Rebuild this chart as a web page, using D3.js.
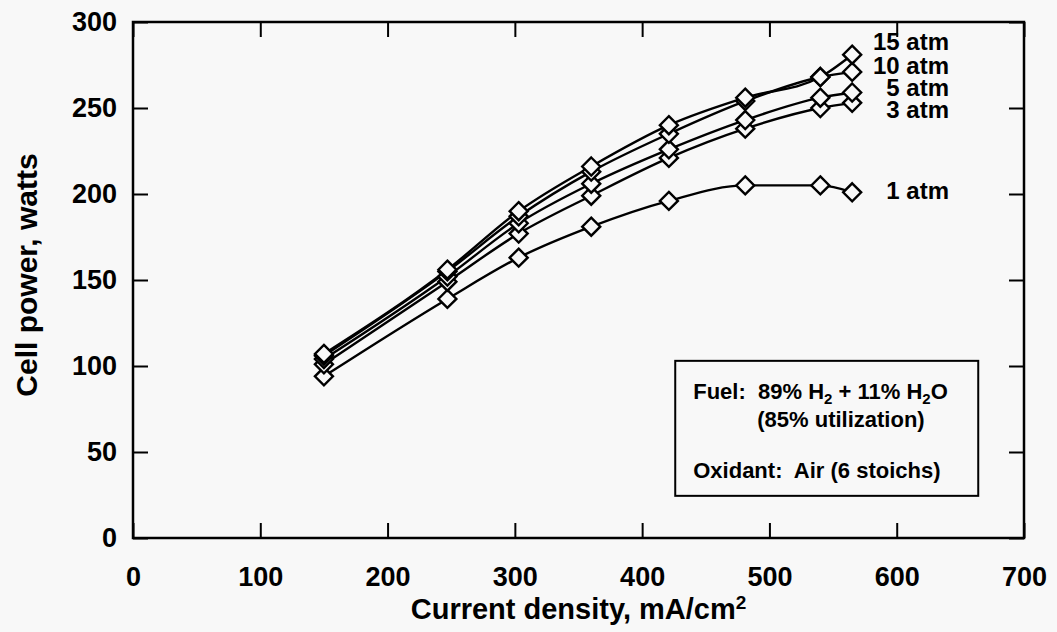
<!DOCTYPE html>
<html>
<head>
<meta charset="utf-8">
<script src="https://cdn.jsdelivr.net/npm/d3@7"></script>
<style>
  body { margin: 0; background: #f8f8f8; }
  svg { display: block; font-family: "Liberation Sans", Arial, Helvetica, sans-serif; font-weight: bold; }
</style>
</head>
<body>
<svg id="chart"></svg>
<script>
// current density, mA/cm2
const density = [150, 247, 303, 360, 421, 481, 540, 565];
// cell power, watts, one list per pressure
const atm1 = [94, 139, 163, 181, 196, 205, 205, 201];
const atm3 = [101, 149, 177, 199, 221, 238, 250, 253];
const atm5 = [104, 152, 183, 206, 226, 243, 256, 259];
const atm10 = [106, 155, 187, 213, 235, 254, 268, 271];
const atm15 = [107, 156, 190, 216, 240, 256, 268, 281];
const seriesNames = ["1 atm", "3 atm", "5 atm", "10 atm", "15 atm"];
const xTicks = [0, 100, 200, 300, 400, 500, 600, 700];
const yTicks = [0, 50, 100, 150, 200, 250, 300];

const width = 1057;
const height = 632;
const margin = {top: 22, right: 33, bottom: 94, left: 133};

const svg = d3.select("#chart").attr("width", width).attr("height", height);

const x = d3
  .scaleLinear()
  .domain([0, 700])
  .range([margin.left, width - margin.right]);

const y = d3
  .scaleLinear()
  .domain([0, 300])
  .range([height - margin.bottom, margin.top]);

const series = [atm1, atm3, atm5, atm10, atm15].map((vals, i) => ({
  name: seriesNames[i],
  points: vals.map((v, j) => ({x: density[j], y: v})),
}));

const tickLen = 15;

// axes: bottom/left with labels, top/right ticks only
svg
  .append("g")
  .attr("transform", `translate(0,${y(0)})`)
  .call(d3.axisBottom(x).tickValues(xTicks).tickSizeInner(-tickLen).tickSizeOuter(0).tickPadding(29))
  .call((g) => g.selectAll("text").attr("font-size", "27px").attr("fill", "#000"));

svg
  .append("g")
  .attr("transform", `translate(${x(0)},0)`)
  .call(d3.axisLeft(y).tickValues(yTicks).tickSizeInner(-tickLen).tickSizeOuter(0).tickPadding(16))
  .call((g) => g.selectAll("text").attr("font-size", "27px").attr("fill", "#000"));

svg
  .append("g")
  .attr("transform", `translate(0,${y(300)})`)
  .call(d3.axisTop(x).tickValues(xTicks).tickSizeInner(-tickLen).tickSizeOuter(0).tickFormat(""));

svg
  .append("g")
  .attr("transform", `translate(${x(700)},0)`)
  .call(d3.axisRight(y).tickValues(yTicks).tickSizeInner(-tickLen).tickSizeOuter(0).tickFormat(""));

svg.selectAll(".domain").remove();
svg.selectAll(".tick line").attr("stroke", "#000").attr("stroke-width", 2);

svg
  .append("rect")
  .attr("x", x(0))
  .attr("y", y(300))
  .attr("width", x(700) - x(0))
  .attr("height", y(0) - y(300))
  .attr("fill", "none")
  .attr("stroke", "#000")
  .attr("stroke-width", 2.5);

// curves
const line = d3
  .line()
  .x((d) => x(d.x))
  .y((d) => y(d.y))
  .curve(d3.curveMonotoneX);

svg
  .selectAll(".curve")
  .data(series)
  .enter()
  .append("path")
  .attr("class", "curve")
  .attr("d", (d) => line(d.points))
  .attr("fill", "none")
  .attr("stroke", "#000")
  .attr("stroke-width", 2.4);

// diamond markers
const diamond = "M0,-9L9,0L0,9L-9,0Z";

series.forEach((s) => {
  svg
    .selectAll(null)
    .data(s.points)
    .enter()
    .append("path")
    .attr("d", diamond)
    .attr("transform", (d) => `translate(${x(d.x)},${y(d.y)})`)
    .attr("fill", "#f8f8f8")
    .attr("stroke", "#000")
    .attr("stroke-width", 2.4);
});

// pressure labels at the end of each curve
const labelNudge = {"1 atm": 0, "3 atm": 9, "5 atm": -2.5, "10 atm": -4, "15 atm": -11};

svg
  .selectAll(".series-label")
  .data(series)
  .enter()
  .append("text")
  .attr("class", "series-label")
  .attr("x", 949)
  .attr("y", (d) => y(d.points[d.points.length - 1].y) + labelNudge[d.name])
  .attr("text-anchor", "end")
  .attr("dominant-baseline", "middle")
  .attr("font-size", "24px")
  .text((d) => d.name);

// axis titles
const xTitle = svg
  .append("text")
  .attr("x", (x(0) + x(700)) / 2)
  .attr("y", 619)
  .attr("text-anchor", "middle")
  .attr("font-size", "29px");
xTitle.append("tspan").text("Current density, mA/cm");
xTitle.append("tspan").attr("dy", -10).attr("font-size", "19px").text("2");

svg
  .append("text")
  .attr("transform", "translate(37,275) rotate(-90)")
  .attr("text-anchor", "middle")
  .attr("font-size", "30px")
  .text("Cell power, watts");

// conditions box
const box = svg.append("g").attr("transform", `translate(${x(426)},${y(103)})`);

box
  .append("rect")
  .attr("width", 303)
  .attr("height", 135)
  .attr("fill", "none")
  .attr("stroke", "#000")
  .attr("stroke-width", 2);

const fuel = box.append("text").attr("x", 18).attr("y", 38).attr("font-size", "22px");
fuel.append("tspan").text("Fuel:\u00a0 89% H");
fuel.append("tspan").attr("dy", 5).attr("font-size", "15px").text("2");
fuel.append("tspan").attr("dy", -5).text(" + 11% H");
fuel.append("tspan").attr("dy", 5).attr("font-size", "15px").text("2");
fuel.append("tspan").attr("dy", -5).text("O");

box.append("text").attr("x", 82).attr("y", 66).attr("font-size", "22px").text("(85% utilization)");

box.append("text").attr("x", 18).attr("y", 117).attr("font-size", "22px").text("Oxidant:\u00a0 Air (6 stoichs)");
</script>
</body>
</html>
